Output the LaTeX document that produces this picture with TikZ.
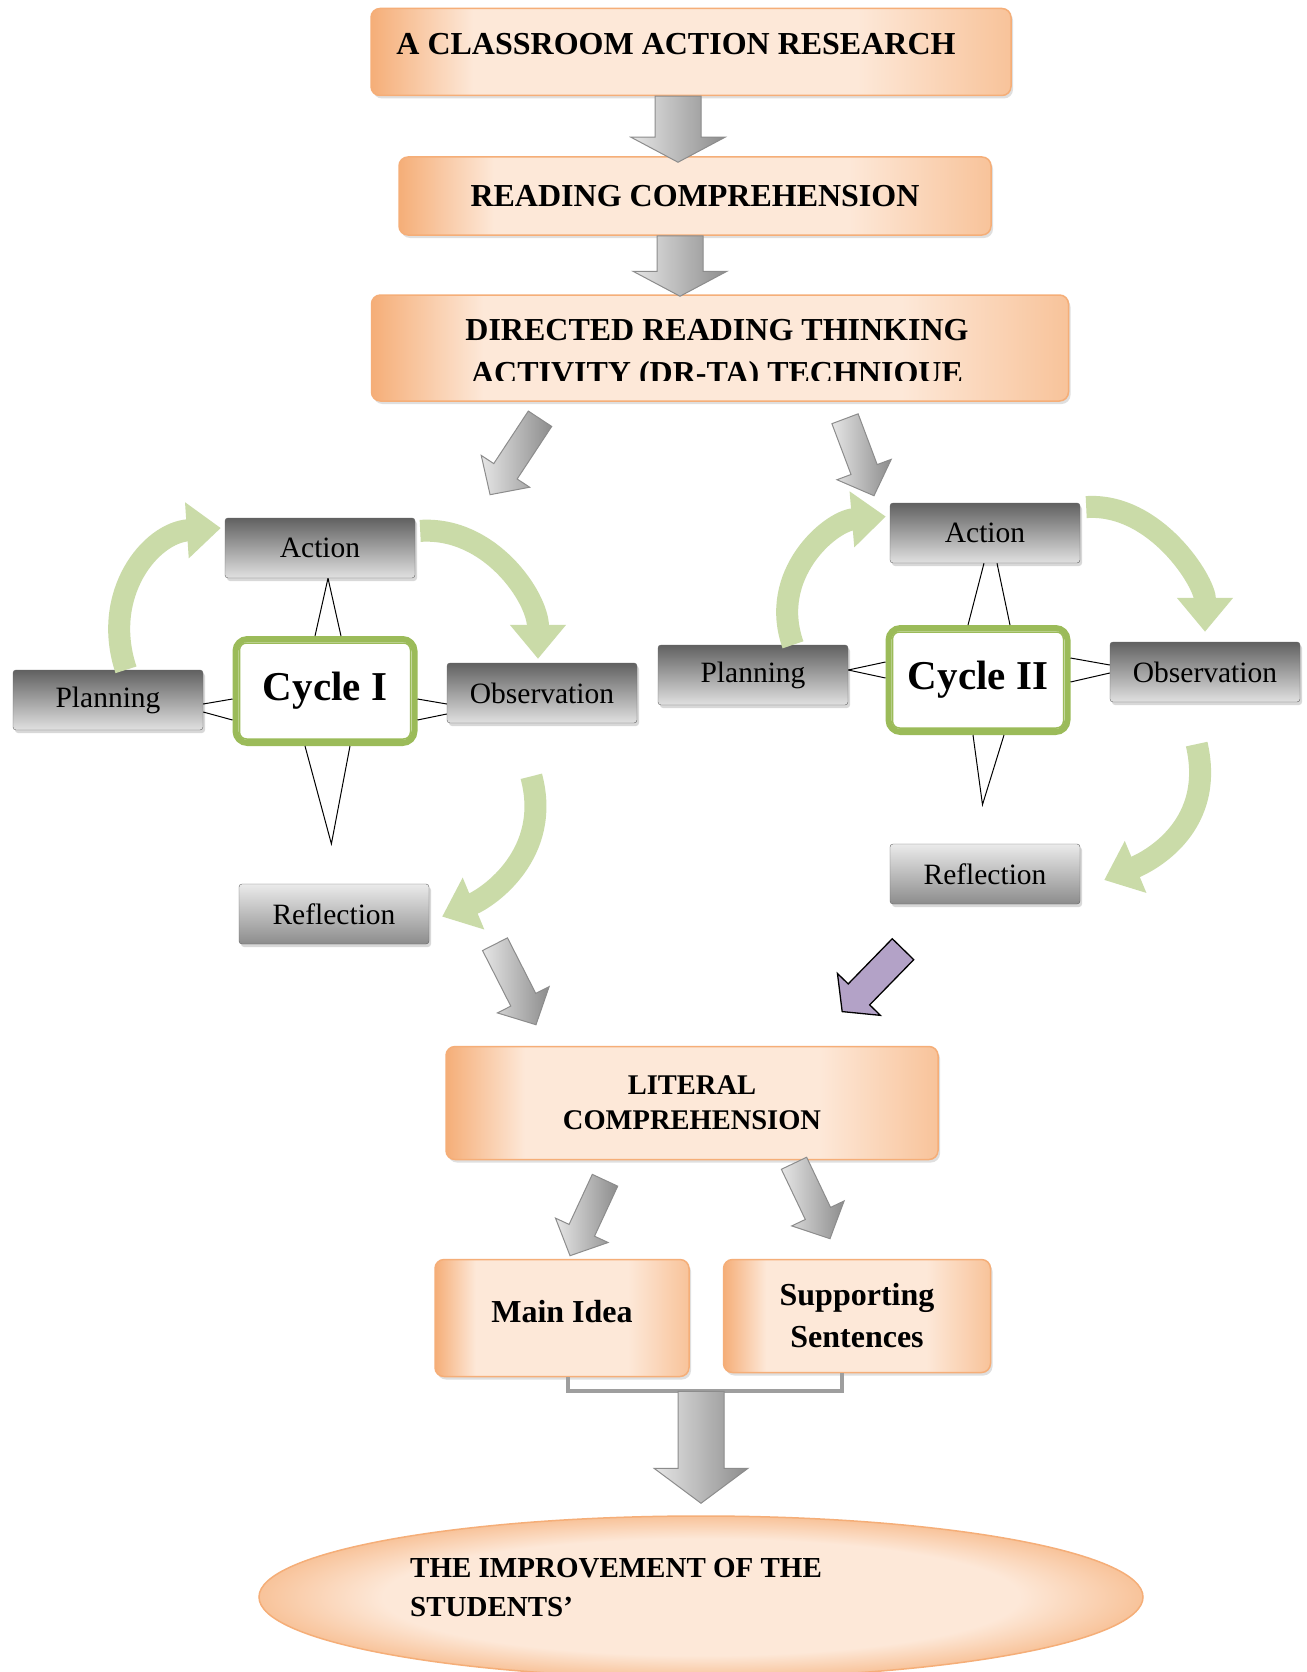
\documentclass[tikz,border=0pt]{standalone}
\usepackage{fontspec}
\setmainfont{Liberation Serif}
\usetikzlibrary{shapes.geometric, arrows.meta, calc, shadows}
\definecolor{boxorange}{HTML}{F5AE78}
\definecolor{boxedge}{HTML}{F8C39A}
\definecolor{boxpeach}{HTML}{FDE8D8}
\definecolor{cyclegreen}{HTML}{9BBB59}
\definecolor{leafgreen}{HTML}{CADBA8}
\definecolor{arrowpurple}{HTML}{B3A2C7}
\pgfdeclarehorizontalshading{boxglow}{100bp}{color(0bp)=(boxorange); color(25bp)=(boxorange);
  color(33bp)=(boxpeach); color(63bp)=(boxpeach); color(75bp)=(boxedge); color(100bp)=(boxedge)}
\pgfdeclareradialshading{ovalglow}{\pgfpointorigin}{color(0bp)=(boxpeach); color(18bp)=(boxpeach);
  color(25bp)=(boxedge); color(50bp)=(boxedge)}

% block arrow: [style]{tail}{tip}{half shaft}{half head}{head length}
\newcommand{\blockarrow}[6][greyarrow]{%
  \path[#1] let \p1=#2, \p2=#3,
      \n1={atan2(\y2-\y1,\x2-\x1)}, \n2={veclen(\x2-\x1,\y2-\y1)} in
    [shift={(\p1)}, rotate=\n1]
    (0pt,#4pt) -- ({\n2-#6pt},#4pt) -- ({\n2-#6pt},#5pt) -- (\n2,0pt)
    -- ({\n2-#6pt},-#5pt) -- ({\n2-#6pt},-#4pt) -- (0pt,-#4pt) -- cycle;}

\begin{document}
\begin{tikzpicture}[x=1pt, y=-1pt,
  mainbox/.style={draw=boxorange, line width=1.5pt, rounded corners=9pt, shading=boxglow,
    drop shadow={opacity=.25, shadow xshift=2pt, shadow yshift=-3pt},
    align=center, font=\bfseries\fontsize{32}{40}\selectfont},
  phasebox/.style={draw=black!60, rounded corners=3pt, top color=black!62, bottom color=black!12,
    minimum width=190pt, minimum height=60pt, font=\fontsize{29.5}{35}\selectfont,
    drop shadow={opacity=.3, shadow xshift=2pt, shadow yshift=-3pt}},
  reflectbox/.style={phasebox, top color=black!8, bottom color=black!45},
  cyclebox/.style={draw=cyclegreen, line width=6pt, rounded corners=12pt, fill=white,
    minimum width=179pt, minimum height=104pt, font=\bfseries\fontsize{41}{48}\selectfont},
  innerring/.style={draw=cyclegreen, line width=1.5pt, rounded corners=7pt},
  kite/.style={draw=black, line width=1pt},
  leafarrow/.style={draw=leafgreen, line width=22pt, -{Triangle[length=34pt, width=54pt]}},
  greyarrow/.style={draw=black!45, line width=1pt, left color=black!10, right color=black!45},
  purplearrow/.style={draw=black, line width=1.3pt, fill=arrowpurple},
  bracket/.style={draw=black!38, line width=4pt},
  outcome/.style={ellipse, draw=boxorange, line width=1.5pt, shading=ovalglow,
    minimum width=884pt, minimum height=162pt}]
  \path[use as bounding box, fill=white] (0,0) rectangle (1306,1672);

  \node[mainbox, minimum width=640pt, minimum height=87pt, text depth=16pt] (research) at (691,52)
    {A CLASSROOM ACTION RESEARCH\hspace*{30pt}};
  \node[mainbox, minimum width=592pt, minimum height=78pt] (reading) at (695,196) {READING COMPREHENSION};
  \node[mainbox, minimum width=697pt, minimum height=106pt] (drta) at (720,348) {};
  \begin{scope}
    \clip (drta.north west) rectangle ([yshift=21pt]drta.south east);
    \node[align=center, font=\bfseries\fontsize{32}{43}\selectfont] (drtatext) at (717,355)
      {DIRECTED READING THINKING\\ACTIVITY (DR-TA) TECHNIQUE};
  \end{scope}

  % cycle I
  \node[phasebox] (actL) at (320,548) {Action};
  \node[phasebox] (plnL) at (108,700) {Planning};
  \node[cyclebox] (cycL) at (325,691) {Cycle I};
  \node[phasebox] (obsL) at (542,693) {Observation};
  \node[reflectbox] (refL) at (334,914) {Reflection};

  % cycle II
  \node[phasebox] (actR) at (985,533) {Action};
  \node[phasebox] (plnR) at (753,675) {Planning};
  \node[cyclebox] (cycR) at (978,680) {Cycle II};
  \node[phasebox] (obsR) at (1205,672) {Observation};
  \node[reflectbox] (refR) at (985,874) {Reflection};

  \node[mainbox, minimum width=492pt, minimum height=113pt, font=\bfseries\fontsize{28.5}{35}\selectfont]
    (literal) at (692,1103) {LITERAL\\COMPREHENSION};
  \node[mainbox, minimum width=254pt, minimum height=117pt, text depth=14pt] (mainidea) at (562,1318) {Main Idea};
  \node[mainbox, minimum width=267pt, minimum height=113pt, font=\bfseries\fontsize{32}{42}\selectfont]
    (supporting) at (857,1316) {Supporting\\Sentences};
  \node[outcome] (improve) at (701,1597) {};
  \node[align=left, anchor=west, inner sep=0pt, font=\bfseries\fontsize{29}{39}\selectfont]
    (improvetext) at (410,1588) {THE IMPROVEMENT OF THE\\STUDENTS’};

  \foreach \c in {cycL, cycR}
    \draw[innerring] ([shift={(7pt,-7pt)}]\c.north west) rectangle ([shift={(-7pt,7pt)}]\c.south east);

  % kites round cycle I
  \draw[kite] ([xshift=8pt]actL.south) -- ([xshift=-10pt]cycL.north)
              ([xshift=8pt]actL.south) -- ([xshift=16pt]cycL.north);
  \draw[kite] ([yshift=-4pt]plnL.east) -- ([yshift=-8pt]cycL.west)
              ([yshift=-12pt]plnL.east) -- ([yshift=-29pt]cycL.west);
  \draw[kite] ([yshift=-8pt]cycL.east) -- ([yshift=-11pt]obsL.west)
              ([yshift=-29pt]cycL.east) -- ([yshift=-21pt]obsL.west);
  \coordinate (tipL) at ($(cycL.south)!0.71!(refL.north)$);
  \draw[kite] ([xshift=-20pt]cycL.south) -- (tipL) -- ([xshift=25pt]cycL.south);

  % kites round cycle II
  \draw[kite] ([xshift=-1pt]actR.south) -- ([xshift=-10pt]cycR.north)
              ([xshift=12pt]actR.south) -- ([xshift=32pt]cycR.north);
  \draw[kite] ([yshift=5pt]plnR.east) -- ([yshift=18pt]cycR.west)
              ([yshift=5pt]plnR.east) -- ([yshift=2pt]cycR.west);
  \draw[kite] ([yshift=22pt]cycR.east) -- ([yshift=7pt]obsR.west)
              ([yshift=-2pt]cycR.east) -- ([yshift=-1pt]obsR.west);
  \coordinate (tipR) at ($(cycR.south)!0.64!(refR.north)$);
  \draw[kite] ([xshift=-5pt]cycR.south) -- (tipR) -- ([xshift=26pt]cycR.south);

  % green cycle arrows
  \draw[leafarrow, shorten >=4pt] ([xshift=18pt]plnL.north) .. controls +(-25,-75) and +(-75,5) .. (actL.168);
  \draw[leafarrow, shorten <=5pt, shorten >=4pt] (actL.10) .. controls +(75,-5) and +(0,-65) .. ([xshift=-4pt]obsL.north);
  \draw[leafarrow, shorten <=55pt, shorten >=14pt] ([xshift=-25pt]obsL.south) .. controls +(35,130) and +(60,-25) .. ([yshift=-8pt]refL.east);
  \draw[leafarrow, shorten >=4pt] ([xshift=40pt]plnR.north) .. controls +(-25,-70) and +(-60,5) .. (actR.170);
  \draw[leafarrow, shorten <=6pt, shorten >=10pt] (actR.15) .. controls +(75,-5) and +(0,-60) .. (obsR.north);
  \draw[leafarrow, shorten <=43pt, shorten >=26pt] ([xshift=-18pt]obsR.south) .. controls +(30,130) and +(60,-25) .. ([yshift=-16pt]refR.east);

  % block arrows
  \blockarrow{([xshift=-13pt]research.south)}{([xshift=-17pt,yshift=-6pt]reading.north)}{23}{47}{25}
  \blockarrow{([xshift=-15pt]reading.south)}{([xshift=-40pt,yshift=-2pt]drta.north)}{23}{47}{25}
  \blockarrow{([shift={(-180pt,-17pt)}]drta.south)}{([shift={(170pt,23pt)}]actL.north)}{14}{29}{28}
  \blockarrow{([shift={(125pt,-17pt)}]drta.south)}{([shift={(-111pt,7pt)}]actR.north)}{14}{29}{28}
  \blockarrow{([xshift=161pt]refL.south)}{([shift={(-156pt,21pt)}]literal.north)}{14}{29}{28}
  \blockarrow[purplearrow]{([shift={(-82pt,-45pt)}]refR.south)}{([shift={(150pt,34pt)}]literal.north)}{15}{30}{24}
  \blockarrow{([shift={(-87pt,-20pt)}]literal.south)}{([shift={(8pt,3pt)}]mainidea.north)}{14}{29}{28}
  \blockarrow{([shift={(102pt,-3pt)}]literal.south)}{([shift={(-27pt,20pt)}]supporting.north)}{14}{29}{28}

  \draw[bracket] ([xshift=6pt]mainidea.south) -- ++(0,14) -| ([xshift=-15pt]supporting.south);
  \coordinate (join) at ($(mainidea.south -| improve.north)+(0,14)$);
  \blockarrow{(join)}{([yshift=12pt]improve.north)}{23}{47}{35}
\end{tikzpicture}
\end{document}
